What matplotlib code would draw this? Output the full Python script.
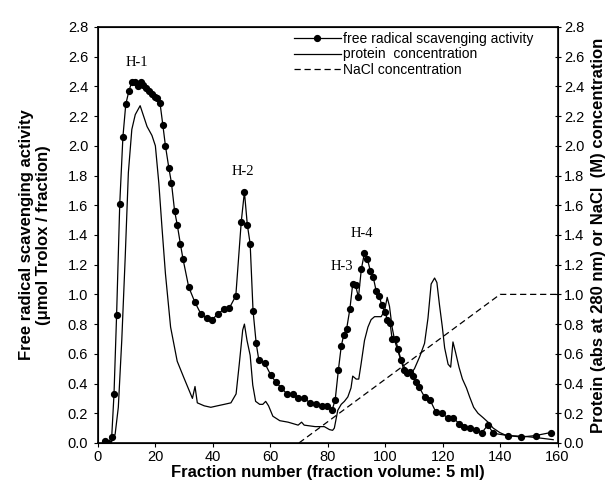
import matplotlib
matplotlib.use("Agg")
import matplotlib.pyplot as plt
import numpy as np

# Activity (dots)
act_x = [2.5, 3.6, 4.8, 5.6, 6.5, 7.6, 8.7, 9.7, 10.8, 11.8, 12.9, 13.8, 14.9,
         15.7, 16.7, 17.8, 18.8, 19.8, 20.6, 21.6, 22.6, 23.5, 24.7, 25.6, 26.7,
         27.6, 28.7, 29.6, 31.6, 33.7, 35.8, 37.8, 39.8, 41.8, 43.9, 45.8, 48.0,
         49.9, 51.0, 52.0, 53.0, 54.0, 55.1, 56.0, 58.0, 60.1, 61.9, 63.9, 65.8,
         67.8, 69.8, 71.8, 73.9, 75.9, 77.9, 79.9, 81.5, 82.6, 83.7, 84.7, 85.6,
         86.6, 87.7, 88.7, 89.7, 90.7, 91.7, 92.8, 93.8, 94.8, 95.8, 96.9, 97.9,
         98.8, 99.9, 100.8, 101.7, 102.4, 103.6, 104.5, 105.5, 106.5, 107.6,
         108.5, 109.7, 110.6, 111.7, 113.7, 115.6, 117.6, 119.7, 121.7, 123.7,
         125.7, 127.6, 129.7, 131.6, 133.7, 135.7, 137.7, 142.6, 147.4, 152.4,
         157.6]
act_y = [0.016, 0.0, 0.04, 0.33, 0.86, 1.61, 2.06, 2.28, 2.37, 2.43, 2.43, 2.40,
         2.43, 2.41, 2.39, 2.37, 2.35, 2.33, 2.32, 2.29, 2.14, 2.00, 1.85, 1.75,
         1.56, 1.47, 1.34, 1.24, 1.05, 0.95, 0.87, 0.84, 0.83, 0.87, 0.90, 0.91,
         0.99, 1.49, 1.69, 1.47, 1.34, 0.89, 0.67, 0.56, 0.54, 0.46, 0.41, 0.37,
         0.33, 0.33, 0.30, 0.30, 0.27, 0.26, 0.25, 0.25, 0.22, 0.29, 0.49, 0.65,
         0.73, 0.77, 0.90, 1.07, 1.06, 0.98, 1.17, 1.28, 1.24, 1.16, 1.12, 1.02,
         0.99, 0.93, 0.88, 0.83, 0.81, 0.70, 0.70, 0.63, 0.56, 0.49, 0.47, 0.48,
         0.45, 0.41, 0.38, 0.31, 0.29, 0.21, 0.20, 0.17, 0.17, 0.13, 0.11, 0.10,
         0.09, 0.07, 0.12, 0.065, 0.05, 0.04, 0.05, 0.07]

# Protein (abs 280 nm)
prot_x = [3.0, 4.8, 6.0, 7.1, 8.3, 9.5, 10.6, 11.8, 13.0, 14.7, 15.9, 17.1, 18.8,
          20.0, 21.2, 22.3, 23.5, 25.3, 27.6, 29.9, 32.9, 33.8, 34.6, 37.0, 39.3,
          41.6, 44.0, 46.3, 48.1, 49.2, 50.4, 51.0, 51.9, 53.0, 53.9, 54.9, 56.3,
          57.4, 58.4, 59.4, 60.9, 63.3, 66.2, 69.7, 70.9, 71.8, 75.6, 78.8, 80.6,
          81.7, 82.3, 83.5, 84.7, 85.8, 87.0, 88.1, 88.7, 89.9, 90.8, 91.6, 92.8,
          94.0, 95.1, 96.3, 98.6, 99.8, 100.7, 101.5, 102.4, 103.3, 104.4, 105.6,
          106.7, 107.9, 109.1, 110.2, 112.0, 113.7, 114.9, 116.0, 117.2, 118.0,
          118.9, 119.9, 120.7, 121.9, 122.8, 123.6, 124.5, 125.7, 126.9, 128.3,
          129.4, 130.8, 132.3, 134.1, 135.8, 137.6, 139.9, 142.2, 145.7, 149.2,
          152.7, 158.5]
prot_y = [0.0, 0.01, 0.06, 0.24, 0.69, 1.25, 1.82, 2.11, 2.21, 2.27, 2.20, 2.13,
          2.07, 2.00, 1.75, 1.45, 1.14, 0.78, 0.55, 0.44, 0.30, 0.38, 0.27, 0.25,
          0.24, 0.25, 0.26, 0.27, 0.33, 0.53, 0.76, 0.80, 0.69, 0.59, 0.39, 0.28,
          0.26, 0.26, 0.28, 0.25, 0.18, 0.15, 0.14, 0.12, 0.14, 0.12, 0.11, 0.11,
          0.09, 0.085, 0.10, 0.22, 0.26, 0.28, 0.31, 0.37, 0.45, 0.43, 0.43, 0.53,
          0.69, 0.78, 0.83, 0.85, 0.85, 0.89, 0.98, 0.92, 0.78, 0.69, 0.62, 0.55,
          0.51, 0.49, 0.47, 0.50, 0.58, 0.67, 0.84, 1.07, 1.11, 1.08, 0.93, 0.78,
          0.64, 0.53, 0.51, 0.68, 0.61, 0.51, 0.43, 0.37, 0.31, 0.24, 0.20, 0.17,
          0.14, 0.10, 0.07, 0.05, 0.047, 0.043, 0.036, 0.022]

# NaCl gradient
nacl_x = [70, 140, 160]
nacl_y = [0.0, 1.0, 1.0]

peak_labels = ["H-1", "H-2", "H-3", "H-4"]
peak_x = [13.6, 50.4, 85.0, 92.0]
peak_y = [2.56, 1.83, 1.19, 1.41]

plt.rcParams['font.family'] = ['Liberation Sans', 'DejaVu Sans']

fig = plt.figure(figsize=(6.12, 4.90), dpi=100)
ax = fig.add_axes([0.160, 0.096, 0.751, 0.849])

ax.plot(act_x, act_y, color="black", lw=0.9, marker="o", ms=4.2,
        label="free radical scavenging activity")
ax.plot(prot_x, prot_y, color="black", lw=0.9, label="protein  concentration")
ax.plot(nacl_x, nacl_y, color="black", lw=0.9, ls=(0, (5, 3)),
        label="NaCl concentration")

for lab, px, py in zip(peak_labels, peak_x, peak_y):
    ax.text(px, py, lab, ha="center", va="center", fontsize=10.5,
            family="Liberation Serif")

ax.set_xlim(0, 160)
ax.set_ylim(0, 2.8)
ax.set_xticks(np.arange(0, 161, 20))
yt = np.arange(0, 2.81, 0.2)
ax.set_yticks(yt)
ax.set_yticklabels([f"{v:.1f}" for v in yt])
ax.tick_params(axis="both", direction="out", length=3, width=0.8,
               labelsize=10.5, pad=2)
ax.tick_params(axis="y", pad=4)
for s in ax.spines.values():
    s.set_linewidth(1.2)

ax2 = ax.twinx()
ax2.set_ylim(0, 2.8)
ax2.set_yticks(yt)
ax2.set_yticklabels([f"{v:.1f}" for v in yt])
ax2.tick_params(axis="y", direction="inout", length=5, width=0.8,
                labelsize=10.5, pad=2)

ax.set_xlabel("Fraction number (fraction volume: 5 ml)", fontsize=12,
              fontweight="bold", labelpad=1)
ax.set_ylabel("Free radical scavenging activity\n(\u03bcmol Trolox / fraction)",
              fontsize=12, fontweight="bold", labelpad=12)
ax2.set_ylabel("Protein (abs at 280 nm) or NaCl  (M) concentration",
               fontsize=12, fontweight="bold", labelpad=5)

ax.legend(loc="upper left", bbox_to_anchor=(0.42, 0.995), frameon=False,
          fontsize=10, handlelength=3.4, handletextpad=0.15, labelspacing=0.12,
          borderaxespad=0, borderpad=0.2)

fig.savefig("out.png", dpi=100)
